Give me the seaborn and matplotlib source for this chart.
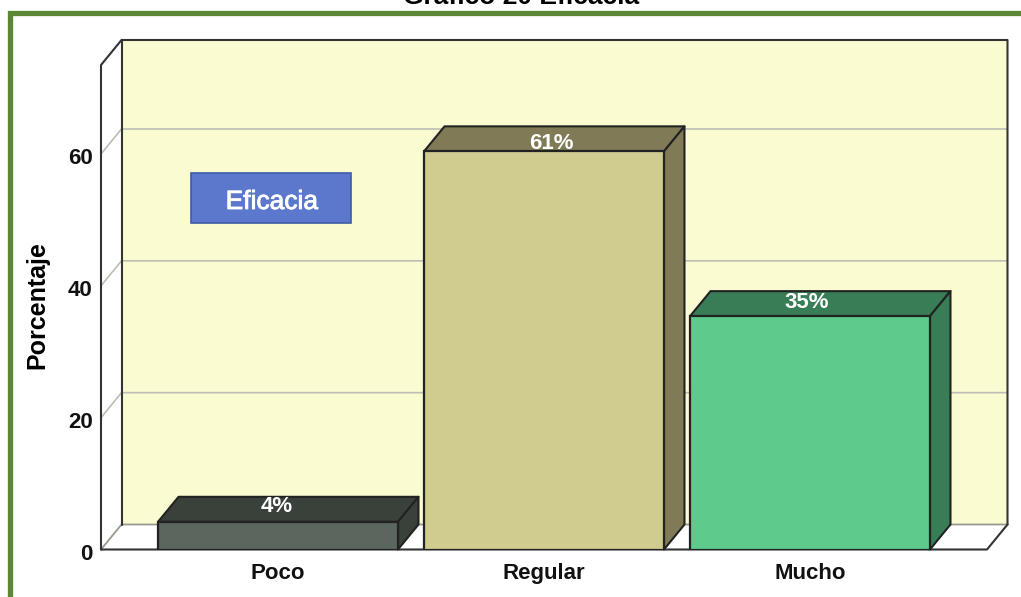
import seaborn as sns
import pandas as pd
import matplotlib.pyplot as plt
import matplotlib.patheffects as pe
from matplotlib.patches import Polygon, Rectangle
from matplotlib.transforms import ScaledTranslation

niveles = ['Poco', 'Regular', 'Mucho']
porcentajes = [4.2, 60.4, 35.4]
etiquetas = ['4%', '61%', '35%']
colores_frente = ['#5B665E', '#D0CB8F', '#5ECB8C']
colores_lado = ['#3A403A', '#807B56', '#387D55']
marcas_y = [0, 20, 40, 60]

W, H = 1021, 597
LINEA = '#222222'
GRIS = '#BDBDB5'
PARED = '#FBFBD2'

sns.set_style('white')
plt.rcParams['font.family'] = ['Liberation Sans', 'DejaVu Sans']

df = pd.DataFrame({'nivel': niveles, 'porcentaje': porcentajes})

fig = plt.figure(figsize=(W / 100, H / 100), dpi=100)
ax = fig.add_axes([101 / W, 1 - 549.5 / H, 886 / W, 484.5 / H])
ax.patch.set_visible(False)

sns.barplot(data=df, x='nivel', y='porcentaje', hue='nivel', palette=colores_frente,
            width=0.902, edgecolor=LINEA, linewidth=1.6, saturation=1, legend=False, ax=ax)

x0, x1 = -0.6654, 2.6654
y1 = 73.5
ax.set_xlim(x0, x1)
ax.set_ylim(0, y1)
# profundidad del falso 3D, en unidades de datos
dx = 20.5 / 266
dy = 25 / (484.5 / y1)
# ajuste fino de cada etiqueta sobre la cara superior, en pixeles
ajuste = [(-1, 15), (7, 8), (-3, 14)]


def poligono(puntos, color, z, borde='none', lw=0):
    ax.add_patch(Polygon(puntos, closed=True, facecolor=color, edgecolor=borde, linewidth=lw,
                         zorder=z, clip_on=False, joinstyle='round'))


def linea(xs, ys, color=LINEA, lw=1.5, z=0.7):
    ax.plot(xs, ys, color=color, lw=lw, zorder=z, clip_on=False, solid_capstyle='round')


# paredes y piso
poligono([(x0 + dx, dy), (x1 + dx, dy), (x1 + dx, y1 + dy), (x0 + dx, y1 + dy)], PARED, 0.2)
poligono([(x0, 0), (x0 + dx, dy), (x1 + dx, dy), (x1, 0)], 'white', 0.3)

for v in marcas_y[1:]:
    linea([x0, x0 + dx, x1 + dx], [v, v + dy, v + dy], GRIS, 1.2, 0.5)

linea([x0, x0 + dx, x1 + dx], [0, dy, dy], '#999990', 1.3, 0.5)
linea([x0, x0, x0 + dx, x1 + dx, x1 + dx], [0, y1, y1 + dy, y1 + dy, dy], '#333333')
linea([x0 + dx, x0 + dx], [dy, y1 + dy], '#333333')
linea([x0, x1, x1 + dx], [0, 0, dy], '#333333')

# caras superior y lateral de cada barra
for i, barra in enumerate(ax.patches[:3]):
    izq = barra.get_x()
    der = izq + barra.get_width()
    alto = barra.get_height()
    barra.set_zorder(3)
    poligono([(izq, alto), (izq + dx, alto + dy), (der + dx, alto + dy), (der, alto)],
             colores_lado[i], 2, LINEA, 1.5)
    poligono([(der, 0), (der + dx, dy), (der + dx, alto + dy), (der, alto)],
             colores_lado[i], 2, LINEA, 1.5)
    ax.annotate(etiquetas[i], xy=((izq + der) / 2, alto), xytext=(ajuste[i][0] * 0.72, ajuste[i][1] * 0.72),
                textcoords='offset points', color='white', fontsize=16, fontweight='bold',
                ha='center', va='center', zorder=4)

sns.despine(ax=ax, left=True, bottom=True)
ax.set_xlabel('')
ax.set_ylabel('Porcentaje', fontsize=18, fontweight='bold', labelpad=13, color='black', y=0.505)
ax.set_yticks(marcas_y)
ax.set_xticks(range(3))
ax.set_xticklabels(niveles, fontsize=16, fontweight='bold', color='#111111')
ax.set_yticklabels(marcas_y, fontsize=16, fontweight='bold', color='#111111',
                   family=['Liberation Sans Narrow', 'Liberation Sans'])
ax.tick_params(axis='both', length=0)
ax.tick_params(axis='x', pad=10)
ax.tick_params(axis='y', pad=6)
bajar = ScaledTranslation(0, -2.5 / 100, fig.dpi_scale_trans)
for et in ax.get_yticklabels():
    et.set_transform(et.get_transform() + bajar)

# caja "Eficacia"
fig.add_artist(Rectangle((191 / W, 1 - 223 / H), 160 / W, 50 / H, transform=fig.transFigure,
                         facecolor='#5B78CC', edgecolor='#3F5CA8', linewidth=1.2, zorder=5))
fig.text(272 / W, 1 - 202 / H, 'Eficacia', color='white', fontsize=19, ha='center',
         va='center', zorder=6, path_effects=[pe.withStroke(linewidth=0.6, foreground='white')])

# marco verde y titulo cortado
fig.add_artist(Rectangle((9.5 / W, 1 - 640 / H), 1100 / W, 627 / H, transform=fig.transFigure,
                         facecolor='none', edgecolor='#5A8636', linewidth=3.8, zorder=1))
fig.text(521 / W, 1 - 4 / H, 'Gráfico 20 Eficacia', color='black', fontsize=19,
         fontweight='bold', ha='center', va='baseline')

fig.savefig('out.png', dpi=100)
